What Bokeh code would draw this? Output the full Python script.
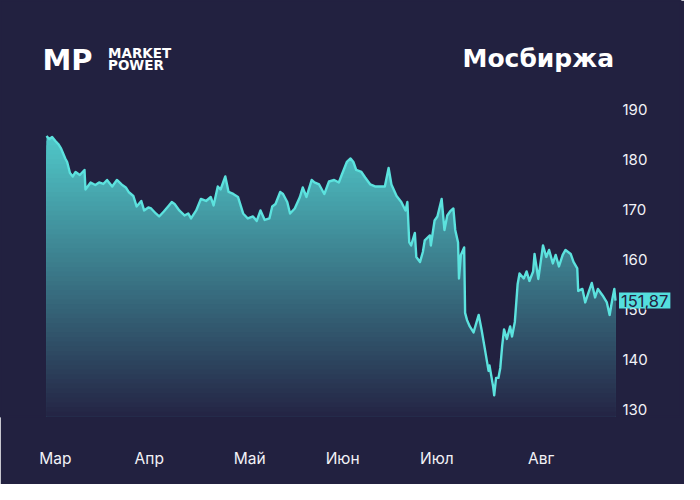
import numpy as np
from bokeh.plotting import figure
from bokeh.models import Range1d, LinearAxis, FixedTicker, Label
from bokeh.embed import file_html
from bokeh.resources import INLINE

# ---- data: trading sessions since start, and share price (RUB) ----
sessions = [0.0, 0.6, 1.2, 1.9, 2.5, 3.1, 4.0, 4.4, 5.0, 5.6, 6.2, 7.1, 8.1, 8.3, 9.4,
            10.4, 11.2, 12.1, 12.9, 14.0, 15.0, 16.0, 16.9, 17.5, 18.5, 19.2, 20.2,
            20.8, 21.7, 22.3, 23.3, 24.0, 25.0, 26.0, 26.7, 27.3, 28.3, 29.4, 30.2,
            30.8, 31.9, 32.9, 34.0, 35.0, 35.6, 36.5, 37.1, 38.1, 38.8, 39.8, 40.8,
            41.9, 42.9, 44.0, 44.8, 45.6, 46.5, 47.5, 48.1, 48.8, 49.8, 50.4, 51.3,
            51.9, 52.9, 54.0, 54.6, 55.4, 56.5, 57.1, 58.1, 59.2, 60.2, 61.3, 62.3,
            62.9, 64.0, 64.8, 65.4, 66.0, 67.1, 67.9, 69.0, 70.0, 71.0, 72.1, 72.9,
            73.5, 74.6, 75.6, 76.5, 76.9, 77.3, 77.7, 78.5, 78.8, 79.6, 80.2, 80.6,
            81.7, 81.9, 82.7, 83.3, 84.2, 84.8, 85.4, 86.0, 86.7, 87.1, 87.7, 87.9,
            88.3, 89.0, 89.2, 89.6, 90.2, 91.0, 92.1, 92.7, 93.3, 94.2, 94.4, 95.2,
            95.4, 95.8, 96.3, 96.7, 97.1, 97.5, 98.1, 98.8, 99.2, 99.8, 100.4, 100.8,
            101.7, 102.3, 102.9, 103.7, 104.0, 104.8, 105.8, 106.5, 107.1, 107.9,
            108.5, 109.2, 110.0, 110.6, 111.7, 112.3, 113.1, 113.3, 114.2, 114.8,
            115.4, 116.2, 116.9, 117.5, 118.5, 119.4, 120.0, 120.6, 121.0, 121.25]
prices = [184.8, 184.2, 184.6, 183.8, 183.2, 182.3, 180.3, 179.6, 177.4, 176.7, 177.6,
          177.0, 178.0, 174.1, 175.5, 175.0, 175.5, 175.2, 176.0, 174.7, 176.0, 175.1,
          174.5, 173.6, 172.8, 170.7, 171.8, 169.9, 170.5, 170.3, 169.3, 168.7, 169.7,
          170.8, 171.6, 171.2, 169.9, 168.9, 169.3, 168.3, 169.9, 172.2, 171.8, 172.6,
          170.9, 174.7, 174.1, 176.7, 173.6, 173.2, 172.6, 169.3, 168.3, 168.7, 167.8,
          169.9, 168.0, 168.3, 170.7, 171.2, 173.6, 173.2, 171.6, 169.3, 170.3, 172.6,
          174.5, 172.6, 176.0, 175.5, 175.1, 173.2, 175.7, 176.0, 175.5, 177.0, 179.6,
          180.3, 179.6, 178.0, 177.6, 176.5, 175.1, 174.7, 174.7, 174.7, 178.4, 175.1,
          172.8, 171.6, 169.9, 171.6, 163.5, 162.9, 165.4, 160.6, 159.6, 161.6, 163.9,
          164.9, 162.9, 167.9, 168.7, 172.2, 166.0, 168.9, 169.7, 170.3, 166.0, 163.5,
          156.3, 161.0, 162.5, 149.4, 148.0, 146.7, 145.5, 149.0, 146.1, 142.8, 137.8,
          138.9, 134.5, 132.9, 136.4, 136.4, 138.4, 142.8, 146.1, 144.2, 146.7, 144.7,
          147.6, 155.2, 157.3, 156.3, 157.7, 155.8, 157.7, 161.2, 156.2, 162.9, 160.6,
          162.0, 159.3, 161.0, 158.7, 161.0, 162.0, 161.2, 159.6, 158.3, 153.8, 154.2,
          151.5, 153.2, 155.4, 152.5, 154.2, 152.9, 151.5, 149.0, 152.3, 154.2, 151.87]
month_ticks = [1.9, 21.9, 43.3, 63.1, 83.2, 105.4]
month_labels = ["Мар", "Апр", "Май", "Июн", "Июл", "Авг"]
y_ticks = [130, 140, 150, 160, 170, 180, 190]
last_label = "151,87"
title_text = "Мосбиржа"

# ---- style ----
BG = "#222140"
LINE = "#5ce2de"
TOP_RGB = np.array([80, 200, 201])
BOT_RGB = np.array([36, 36, 68])
FONT = "Inter"

W, H = 684, 484
L, R, T, B = 0, 4, 0, 68              # frame covers header and right label column
FW, FH = W - L - R, H - T - B         # 680 x 416
DATA_LEFT, DATA_RIGHT = 46, 615       # pixel span of the series inside the frame
PPU_X = (DATA_RIGHT - DATA_LEFT) / 121.25
PPU_Y = 319 / 63.82
X0 = -(DATA_LEFT - L) / PPU_X
X1 = X0 + FW / PPU_X
Y0 = 128.68
Y1 = Y0 + FH / PPU_Y

p = figure(width=W, height=H, output_backend="svg", toolbar_location=None,
           x_range=Range1d(X0, X1), y_range=Range1d(Y0, Y1),
           x_axis_location=None, y_axis_location=None,
           min_border_left=L, min_border_right=R, min_border_top=T, min_border_bottom=B,
           background_fill_color=BG, border_fill_color=BG)
p.outline_line_color = BG
p.outline_line_width = 2
p.grid.visible = False


def fx(px):
    return X0 + (px - L) / PPU_X


def fy(py):
    return Y1 - (py - T) / PPU_Y


def base(py, size):
    # Label's alphabetic baseline sits ~0.35em lower than requested
    return fy(py - 0.35 * size)


price = np.array(prices)
x = np.array(sessions)

# gradient area under the curve: nested bands, top colour first
n = 60
lo, hi = Y0, float(price.max())
edges = np.linspace(lo, hi, n + 1)
for k in range(n - 1, -1, -1):
    f = (k + 0.5) / n
    rgb = BOT_RGB + (TOP_RGB - BOT_RGB) * f
    col = "#%02x%02x%02x" % tuple(int(round(c)) for c in rgb)
    p.varea(x=x, y1=np.full_like(price, lo), y2=np.minimum(price, edges[k + 1]),
            fill_color=col)

p.line(x, price, line_color=LINE, line_width=2.4, line_join="round")

# axes
xa = LinearAxis(ticker=FixedTicker(ticks=month_ticks),
                major_label_overrides={t: s for t, s in zip(month_ticks, month_labels)})
ya = LinearAxis(ticker=FixedTicker(ticks=y_ticks))
for ax in (xa, ya):
    ax.axis_line_color = None
    ax.major_tick_line_color = None
    ax.minor_tick_line_color = None
    ax.major_tick_out = 0
    ax.major_tick_in = 0
    ax.major_label_text_color = "#f2f2f7"
    ax.major_label_text_font = FONT
xa.major_label_text_font_size = "15.5px"
xa.major_label_standoff = 32
ya.major_label_text_font_size = "15px"
ya.major_label_standoff = 622 - (W - R)    # pull the labels back next to the series
p.add_layout(xa, "below")
p.add_layout(ya, "right")

# title and logo
p.add_layout(Label(x=fx(613.5), y=base(66.3, 25), text=title_text, text_font="DejaVu Sans",
                   text_font_style="bold", text_font_size="25px", text_color="white",
                   text_align="right", text_baseline="alphabetic"))
p.add_layout(Label(x=fx(42), y=base(69.7, 29), text="MP", text_font="DejaVu Sans",
                   text_font_style="bold", text_font_size="29px", text_color="white",
                   text_align="left", text_baseline="alphabetic"))
p.add_layout(Label(x=fx(107.5), y=base(57.6, 13.5), text="MARKET", text_font="DejaVu Sans",
                   text_font_style="bold", text_font_size="13.5px", text_color="white",
                   text_align="left", text_baseline="alphabetic"))
p.add_layout(Label(x=fx(107.5), y=base(69.7, 13.5), text="POWER", text_font="DejaVu Sans",
                   text_font_style="bold", text_font_size="13.5px", text_color="white",
                   text_align="left", text_baseline="alphabetic"))

# last value tag
p.add_layout(Label(x=fx(618.5), y=prices[-1], text=last_label, text_font=FONT,
                   text_font_size="16.5px", text_color=BG, text_baseline="middle",
                   text_align="left", background_fill_color="#54dedd", padding=2))

open("out.html", "w").write(file_html(p, INLINE))
